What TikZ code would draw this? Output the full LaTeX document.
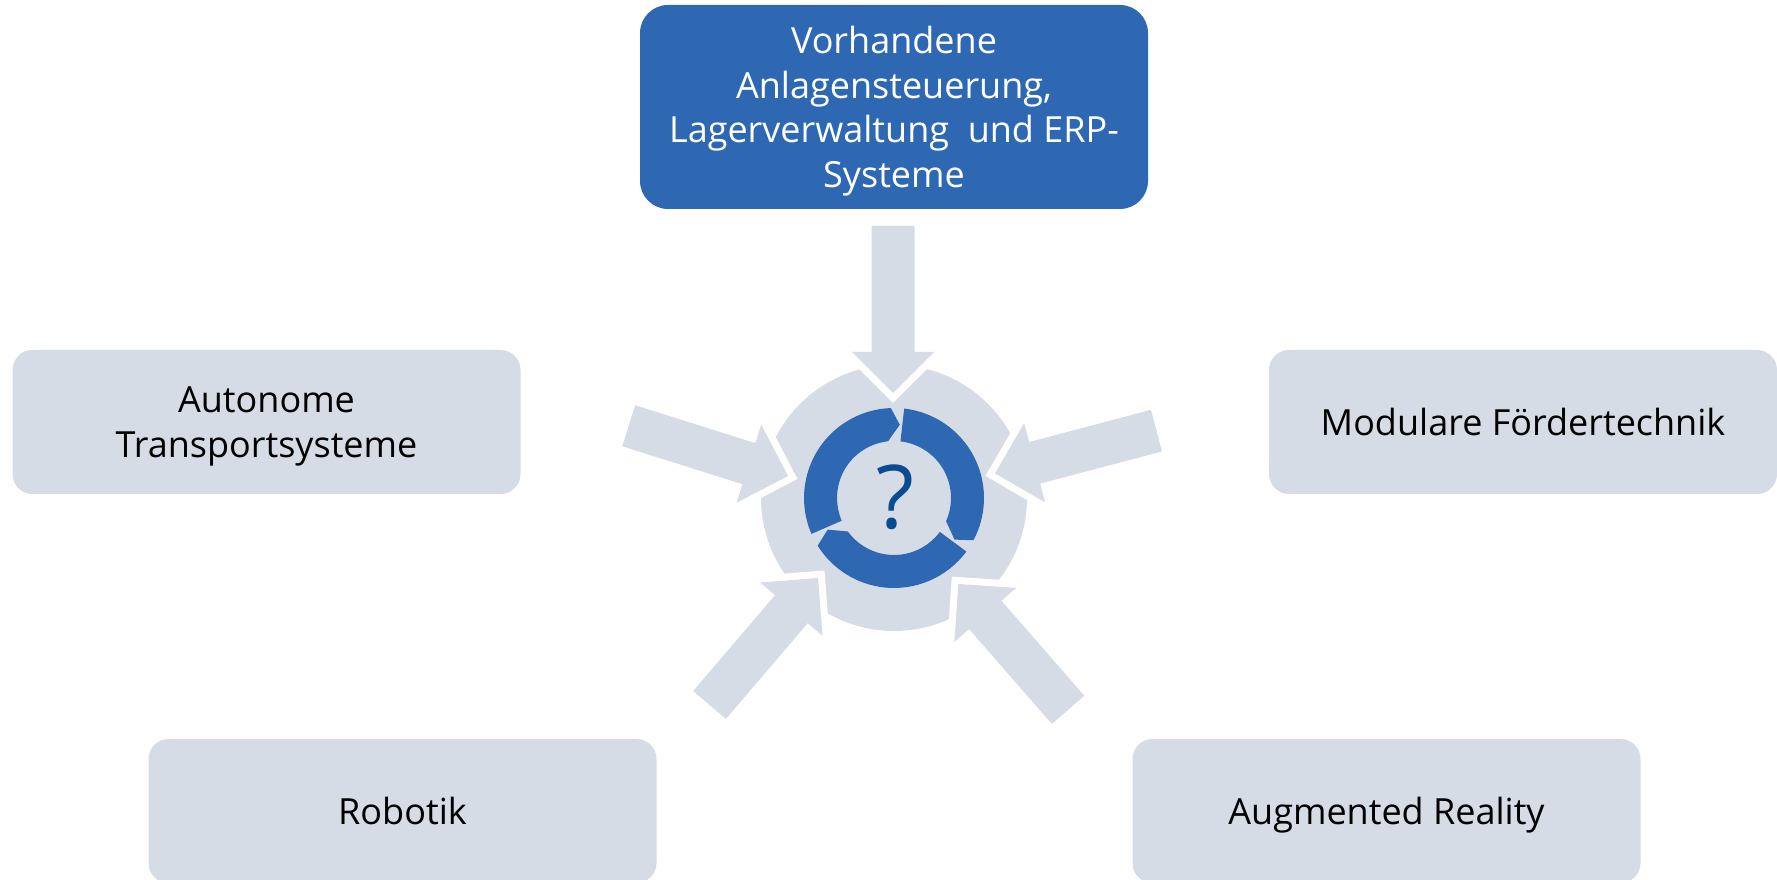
\documentclass[tikz,border=0pt]{standalone}
\usepackage{fontspec}
\setmainfont{Open Sans}
\definecolor{boxgray}{HTML}{D6DCE5}
\definecolor{boxblue}{HTML}{2E68B3}
\definecolor{qblue}{HTML}{0B4B92}
\begin{document}
\begin{tikzpicture}[x=1pt,y=1pt,
  sidebox/.style={rectangle, rounded corners=20pt, fill=boxgray, minimum width=508pt,
    minimum height=144pt, align=center, font=\fontsize{36}{44.5}\selectfont, text=black,
    inner sep=0pt, text depth=0pt},
  topbox/.style={sidebox, fill=boxblue, rounded corners=28pt, minimum height=204pt, text=white},
  inarrow/.pic={\path[preaction={draw=white, line width=14pt, line join=miter}, fill=boxgray]
     (0,0) -- (-41,41) -- (-41,21.5) -- (-167,21.5) -- (-167,-21.5) -- (-41,-21.5) -- (-41,-41) -- cycle;},
  ringseg/.pic={\fill[boxblue] (0:57) -- (0:90) arc[start angle=0, end angle=-111.5, radius=90]
     -- (-118:73.5) -- (-107.5:57) arc[start angle=-107.5, end angle=0, radius=57] -- cycle;}
]
\useasboundingbox (0,0) rectangle (1777,880);

% central wheel
\coordinate (C) at (894,382);
\fill[boxgray] (C) circle[radius=133];
\pic[rotate=203.5] at (C) {ringseg};
\pic[rotate=83.5] at (C) {ringseg};
\pic[rotate=-36.5] at (C) {ringseg};
\node[text=qblue, font=\fontsize{88}{88}\selectfont, inner sep=0pt] (q) at (895,383) {?};

% incoming block arrows (tips)
\coordinate (tT) at (893,487);
\coordinate (tL) at (788,404);
\coordinate (tR) at (995,406.7);
\coordinate (tBL) at (818,302);
\coordinate (tBR) at (958.3,296);
\pic[rotate=-90] at (tT) {inarrow};
\pic[rotate=-17.5] at (tL) {inarrow};
\pic[rotate=-165.2] at (tR) {inarrow};
\pic[rotate=49.5] at (tBL) {inarrow};
\pic[rotate=131.1] at (tBR) {inarrow};

% boxes
\node[topbox] (top) at (894,773) {Vorhandene\\Anlagensteuerung,\\Lagerverwaltung~ und ERP-\\Systeme};
\node[sidebox] (ats) at (266.5,458) {Autonome\\Transportsysteme};
\node[sidebox] (mf) at (1523,458) {Modulare Fördertechnik};
\node[sidebox] (rob) at (402.5,69) {Robotik};
\node[sidebox] (ar) at (1386.5,69) {Augmented Reality};
\end{tikzpicture}
\end{document}
